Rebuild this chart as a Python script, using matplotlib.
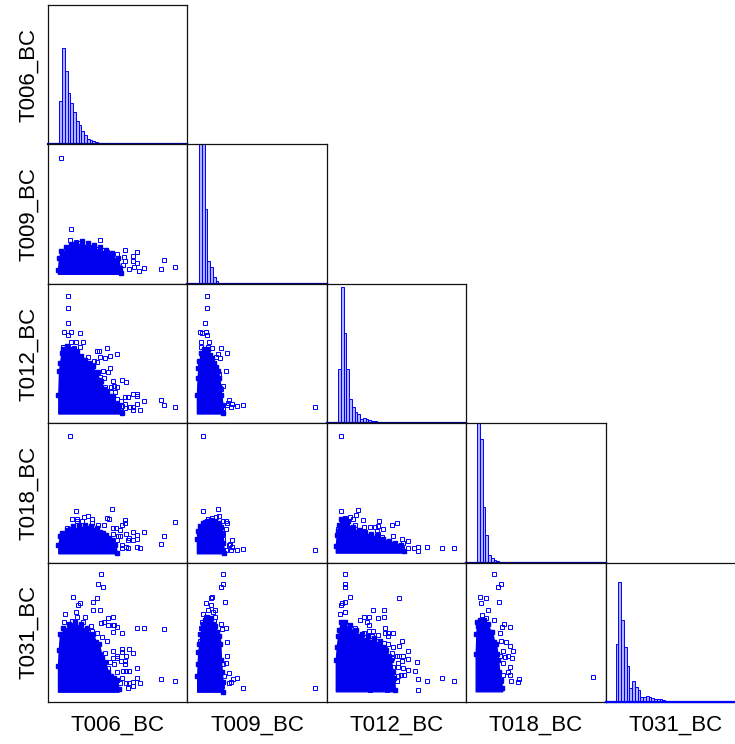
"""
Corner pair plot of the five black carbon channels.
Values are read off the picture, on a 0-139 scale per channel.
"""

import matplotlib
matplotlib.use('Agg')
import matplotlib.pyplot as plt
import numpy as np

plt.rcParams['font.family'] = ['Liberation Sans', 'DejaVu Sans']

names = ['T006_BC', 'T009_BC', 'T012_BC', 'T018_BC', 'T031_BC']

# histogram heights per channel
hist_start = [11.3, 11.8, 11.3, 10.8, 10.0]
hist_step = 2.75
h_t006 = [43.3, 96, 73.3, 51.7, 41.7, 32.3, 23.3, 19.3, 13.3, 9, 5.7, 4, 3, 2, 1.7, 1.3, 1, 0.7, 0.4, 0.3, 0.2]
h_t009 = [150, 150, 75, 23.3, 16.7, 6.7, 3, 1.3, 0.7, 0.3, 0.2]
h_t012 = [54.7, 136.7, 90.7, 54.7, 24.7, 16.7, 11.7, 9.7, 4, 5.7, 4.7, 3.3, 2.7, 2.3, 1.7, 1.3, 1.1, 0.9, 0.7, 0.6, 0.5, 0.4, 0.4, 0.3, 0.3]
h_t018 = [150, 124, 56, 28, 8, 4.7, 2.3, 1.7, 1, 0.5, 0.3]
h_t031 = [58, 119.7, 82.3, 54.7, 36.3, 13.7, 21.3, 15.3, 12, 4.7, 5.3, 5.7, 4.7, 3.7, 3.3, 3.3, 2.7, 2, 1.3, 1, 0.7, 0.5, 0.3]
hists = [h_t006, h_t009, h_t012, h_t018, h_t031]

# dense part of each scatter: outline x, top y, floor y
# isolated points: x, y
d10_x = [10, 11, 13, 15, 18, 20, 23, 25, 28, 31, 34, 37, 40, 43, 46, 49, 52, 55, 58, 61, 64, 67, 70, 72, 73]
d10_top = [14, 26, 33, 30, 37, 34, 40, 36, 41, 38, 43, 37, 41, 36, 39, 33, 37, 31, 34, 28, 31, 24, 26, 16, 11]
d10_floor = 10
p10_x = [13.3, 23, 21.7, 52, 28, 29.7, 17.7, 42.7, 46.3, 33.7, 77, 88.7, 63.7, 69.3, 84.7, 76, 115.7, 77, 84.7, 88.7, 127, 95.7, 113, 86, 91.3, 81, 75.3, 68.7, 48.7, 53.7, 58.7]
p10_y = [126.3, 55, 44.3, 44.3, 42, 41, 37.3, 37.3, 38.3, 39, 34.3, 32, 29.3, 30, 28.3, 26.7, 23.7, 23.3, 23.3, 20.7, 17.3, 16.3, 15.3, 17.3, 13.3, 14.7, 19, 22, 34.7, 34, 32.3]

d20_x = [10.3, 11, 12, 13.5, 15, 17, 19, 21, 23, 25, 27, 29, 31, 33, 35, 37, 39, 41, 43, 45, 47, 49, 51, 53, 56, 59, 62, 65, 68, 71, 74]
d20_top = [28, 52, 60, 70, 74, 70, 77, 73, 71, 74, 68, 72, 66, 67, 62, 63, 58, 60, 55, 57, 49, 51, 43, 42, 34, 32, 27, 27, 20, 18, 10]
d20_floor = 9.7
p20_x = [20.3, 20.3, 20.3, 16, 22.7, 20.3, 32, 23, 27.7, 34.7, 14.7, 20.3, 26, 32, 59, 48.7, 51, 68.7, 61.7, 52, 57, 40.3, 46, 48.7, 42, 61.7, 54.7, 60.3, 50.3, 45.3, 52, 56, 74.3, 77.7, 65.3, 52, 57, 62.7, 66, 68.7, 63, 67, 85.3, 88.7, 88.7, 77, 80.3, 68.7, 73, 95.7, 113, 88.7, 115.7, 127.3, 77, 73.7, 82, 85.3, 92, 85, 72, 77]
p20_y = [127, 115.7, 100.3, 91.7, 91.7, 88, 90.3, 81.3, 81.3, 81.3, 76.3, 76.3, 75.3, 76.3, 75.3, 72.7, 72.7, 69, 67.7, 66.3, 65.3, 66.3, 62.7, 61.3, 60.3, 55, 52.7, 51.3, 51.3, 57, 46, 45, 43.7, 41.3, 42.3, 40, 36.3, 36, 37.3, 36.3, 31.7, 31.7, 29.7, 29.7, 27.7, 26, 26, 24.7, 22, 22, 23.3, 19.7, 18.3, 16, 19.3, 17, 16, 16, 13.3, 13.3, 13.3, 15.3]

d21_x = [9.5, 10.2, 11, 12, 13.5, 15, 17, 19, 21, 23, 25, 27, 29, 30.5, 32, 33, 34, 35, 36]
d21_top = [28, 45, 55, 62, 70, 68, 74, 71, 74, 68, 65, 60, 56, 52, 45, 35, 28, 18, 10]
d21_floor = 9.7
p21_x = [19.5, 19.5, 17.5, 12.5, 14.5, 18.2, 19.5, 13.5, 21.5, 13.5, 20.2, 24.2, 33.5, 39.2, 30.8, 32.5, 28.2, 12.5, 38.5, 31.5, 35.8, 33.5, 41.5, 40.2, 44.8, 55.5, 49.2, 43.5, 39.2, 35.8, 127.2]
p21_y = [127, 115.7, 100.3, 91.7, 90.3, 91.7, 88, 81.7, 81.3, 76.3, 76.3, 75.3, 75.3, 70.3, 69.3, 65.3, 66, 60.3, 52.7, 49.3, 37, 34.7, 23.3, 20.3, 19.3, 18.3, 17, 16, 18.3, 15.3, 16]

d30_x = [10.3, 12, 14, 16, 19, 22, 25, 28, 31, 34, 37, 40, 43, 46, 49, 52, 55, 58, 61, 64, 67, 69]
d30_top = [18, 27, 30, 27, 33, 34, 37, 33, 38, 34, 38, 35, 37, 33, 35, 31, 30, 28, 25, 23, 18, 10]
d30_floor = 9.3
p30_x = [21.7, 27.7, 64, 24, 29, 36, 40.3, 44, 59, 60.7, 77.3, 127.3, 29.3, 33.7, 43.7, 77, 74.3, 56.3, 50.3, 18.7, 25.3, 64.7, 68.3, 72, 95.7, 85, 77.7, 72.3, 65.3, 69.7, 88.7, 115.7, 81, 88.7, 80.3, 84.7, 68.7, 113, 74.3, 77.7, 88.7, 80.3, 92, 74.3, 65.3, 62.7]
p30_y = [127, 51.7, 53.3, 44, 44, 45.3, 47, 44, 45, 44, 42.7, 40.3, 41.7, 41.7, 39.3, 39.3, 37.3, 37.3, 37.3, 35, 36.7, 34.3, 35, 32.7, 30.3, 30.3, 28.7, 26.7, 28.3, 26.7, 27.7, 26.7, 25, 23.7, 22.7, 22.7, 22.7, 19, 17.3, 16, 16, 15, 14.3, 14.3, 16, 12.7]

d31_x = [9.5, 10.5, 11.5, 12.5, 14, 16, 18, 20, 22, 24, 26, 28, 30, 32, 34, 35, 35.8, 36.3]
d31_top = [24, 32, 30, 37, 35, 40, 38, 42, 39, 43, 39, 42, 38, 40, 36, 30, 20, 10]
d31_floor = 9.3
p31_x = [15.2, 15.2, 30.2, 31.5, 17.5, 20.8, 24.2, 28.2, 35.8, 38.5, 39.5, 38.5, 35.8, 35.8, 44.8, 42.5, 41.2, 44.2, 38.5, 43.5, 49.2, 55.5, 35.8, 127.2]
p31_y = [127, 51.7, 53.3, 47, 40.3, 44, 45, 46, 42, 42, 39.3, 34, 28.3, 23.7, 22.7, 19, 17.3, 16, 13, 13, 13, 14, 12.3, 12.3]

d32_x = [9, 10, 10.7, 12, 13, 14, 15.5, 17, 19, 21, 23, 26, 29, 32, 35, 38, 41, 44, 47, 50, 53, 56, 59, 62, 65, 68, 71, 74, 77]
d32_top = [17, 28, 32, 38, 36, 44, 41, 44, 40, 42, 35, 36, 31, 33, 29, 31, 27, 29, 25, 27, 23, 24, 21, 22, 19, 20, 17, 18, 12]
d32_floor = 10
p32_x = [14, 14, 31, 29.3, 18, 23, 25.7, 36, 52, 69.7, 64.7, 50.7, 48, 43, 37, 28, 55.7, 11.3, 49.7, 33, 50.7, 66, 55.3, 75, 81, 75.3, 81, 87.3, 90.7, 91.3, 100, 115.3, 127, 76.3]
p32_y = [127, 51.7, 53, 47.3, 45, 45.7, 43.7, 42.3, 42, 39.3, 37.3, 37, 36, 36, 36, 37.3, 34, 34, 31.3, 32.7, 28.3, 27, 26, 24, 22, 15, 15, 15, 16, 12, 15.7, 14.3, 14.3, 19.3]

d40_x = [10, 10.8, 12, 13.5, 15.3, 18, 21, 24, 27, 30, 33, 36, 39, 42, 45, 48, 51, 54, 57, 60, 63, 66, 69, 70.5]
d40_top = [36, 52, 68, 66, 74, 72, 78, 76, 80, 75, 78, 72, 74, 67, 68, 60, 58, 44, 40, 30, 26, 24, 22, 13]
d40_floor = 10.3
p40_x = [53.3, 50, 54.7, 25, 48.7, 45, 32, 30, 45, 52, 27.7, 17, 37, 28.7, 64.7, 60.3, 16, 34.7, 24, 53, 56, 60.3, 64.7, 66, 42.7, 68.7, 88.7, 95.7, 115.7, 43.7, 64.7, 74.3, 48.7, 53.7, 58.7, 64.7, 74.3, 74.3, 81.3, 84.7, 52, 57, 68.7, 77.7, 64.7, 68.7, 72.7, 76.7, 62, 66, 76.7, 88.7, 75.3, 78, 81, 68.7, 60.3, 88.7, 73.7, 113, 127, 85.3, 78, 81.3, 92, 72, 84.7, 80.3]
p40_y = [127.7, 117.7, 115, 105, 104, 100, 99.3, 97.3, 92.3, 92.3, 90, 87.7, 85.3, 85.3, 85.3, 84, 80.3, 80.3, 81.3, 79, 80.3, 77.3, 77.3, 77.3, 76.3, 75.3, 74, 74, 72.7, 71.3, 70, 68.7, 68.7, 64.7, 61.3, 51, 53, 49.7, 53, 48.7, 48, 48.7, 46, 46, 43.7, 43.7, 40.7, 40.7, 39.7, 38, 38, 34, 31, 31, 31, 30.3, 33.7, 24.3, 23.7, 22.7, 21, 20.3, 19, 19, 19, 19, 16.3, 14]

d41_x = [9.8, 10.3, 10.8, 12, 13, 14.2, 16, 18, 20, 22, 24, 26, 28, 30, 32, 33, 33.5, 34.5, 35.2, 36]
d41_top = [26, 38, 50, 58, 68, 74, 78, 82, 85, 81, 84, 78, 76, 70, 66, 58, 42, 30, 20, 10]
d41_floor = 10.3
p41_x = [35.5, 35.5, 33.5, 24.2, 23.2, 37.5, 18.5, 23.5, 20.5, 27.5, 25.5, 15.5, 27.5, 18.5, 14.8, 26.5, 33.5, 38.5, 34.2, 13.2, 39.5, 12.2, 39.5, 38.2, 35.2, 41.2, 36.5, 49.2, 45.2, 43.2, 41.8, 34.2, 32.5, 55.5, 127.2]
p41_y = [127.7, 117.7, 115, 105, 104, 100, 99, 97.3, 92.3, 92.3, 90, 87.7, 85.3, 84.7, 79.7, 80.7, 77.7, 73.7, 73, 74, 60.3, 61.3, 46, 39, 38, 28.7, 26.3, 24.3, 22.7, 20.3, 19, 16.3, 16.3, 14, 14]

d42_x = [9, 10, 11.3, 12.5, 14, 16, 18, 20, 23, 26, 29, 32, 35, 38, 41, 44, 47, 50, 53, 56, 59, 62, 64, 66, 67.5, 68]
d42_top = [42, 55, 66, 72, 80, 76, 80, 74, 77, 70, 72, 66, 68, 62, 66, 60, 64, 58, 61, 55, 52, 46, 42, 30, 24, 12]
d42_floor = 10.7
p42_x = [18, 18, 18, 23, 18, 15.3, 13.7, 72.3, 46, 57, 18, 13, 37, 41.7, 51, 57, 33.3, 39.7, 42, 13.7, 28, 58.3, 46.3, 41.7, 58.3, 61.3, 66, 37, 51, 60.7, 45, 75, 51.3, 57, 61.3, 66, 72.3, 58.3, 81, 64.7, 60.7, 69.7, 72.3, 76, 81, 65.3, 75, 90, 70.7, 66.3, 76, 70.7, 81, 87.7, 74, 76.7, 70.7, 64.7, 91.3, 115.3, 100, 127, 69.7, 66.3, 61.3, 56.3, 91.3, 60, 43]
p42_y = [127.7, 117.7, 115, 105, 100, 99, 97.3, 104, 92.3, 92.3, 90, 87.7, 85.3, 85.3, 84, 85.3, 82.3, 80.3, 77.3, 80.3, 74, 74, 71.3, 71.3, 69, 69, 69, 69, 67.3, 66, 66, 61.3, 61.3, 59, 58, 54.7, 56.3, 53, 51, 49.3, 46, 46, 46, 46, 42.7, 43.7, 41.3, 40, 39, 34.7, 34, 34.7, 32.3, 31, 27.3, 27.3, 26.3, 29.7, 22.7, 24, 21, 21, 20.7, 20.7, 21.3, 15.7, 12.3, 12.3, 12]

d43_x = [9.5, 10.2, 10.8, 12, 14, 16, 18, 20, 22, 24, 26, 28, 30, 31, 32, 33, 34.5, 36]
d43_top = [48, 68, 80, 76, 82, 78, 82, 74, 78, 70, 70, 60, 58, 48, 42, 30, 22, 14]
d43_floor = 10.7
p43_x = [27.5, 34.5, 31.5, 13.5, 19.5, 15.2, 33.2, 16.2, 21.8, 20.2, 27.8, 37.8, 43.8, 36.2, 34.2, 39.5, 44.2, 46.5, 35.2, 36.8, 42.2, 45.5, 34.2, 38.5, 43.5, 36.8, 41.8, 44.2, 36.8, 52.8, 51.5, 44.5, 126.5, 35.2]
p43_y = [127.7, 117.7, 115.3, 105.3, 104, 99, 100.3, 87.3, 92.3, 84, 82, 78, 75.3, 75.3, 69, 60.3, 56.3, 51.3, 61.3, 51.3, 46, 44, 46, 44.7, 35.3, 38.7, 30.3, 27.3, 27, 22.7, 20.3, 21, 25.3, 21.3]

scatters = {
    (1, 0): (d10_x, d10_top, d10_floor, p10_x, p10_y),
    (2, 0): (d20_x, d20_top, d20_floor, p20_x, p20_y),
    (2, 1): (d21_x, d21_top, d21_floor, p21_x, p21_y),
    (3, 0): (d30_x, d30_top, d30_floor, p30_x, p30_y),
    (3, 1): (d31_x, d31_top, d31_floor, p31_x, p31_y),
    (3, 2): (d32_x, d32_top, d32_floor, p32_x, p32_y),
    (4, 0): (d40_x, d40_top, d40_floor, p40_x, p40_y),
    (4, 1): (d41_x, d41_top, d41_floor, p41_x, p41_y),
    (4, 2): (d42_x, d42_top, d42_floor, p42_x, p42_y),
    (4, 3): (d43_x, d43_top, d43_floor, p43_x, p43_y),
}

W, H = 735, 744
left, top, size = 48.0, 5.0, 139.4
blue = '#0000ff'

fig = plt.figure(figsize=(W / 100, H / 100), dpi=100)

for i in range(5):
    for j in range(i + 1):
        # the last column runs past the right edge of the figure
        ax = fig.add_axes([(left + j * size) / W,
                           1 - (top + (i + 1) * size) / H,
                           size / W, size / H])
        ax.set_xlim(0, 139.4)
        ax.set_ylim(0, 139.4)
        ax.set_xticks([])
        ax.set_yticks([])
        for s in ax.spines.values():
            s.set_linewidth(0.9)
            s.set_color('#111111')

        if i == j:
            heights = hists[i]
            edges = hist_start[i] + hist_step * np.arange(len(heights))
            ax.bar(edges, heights, width=hist_step, align='edge',
                   facecolor=(0, 0, 1, 0.3), edgecolor=blue, linewidth=0.7)
            base = blue if i == 4 else '#00008b'
            ax.axhline(0, color=base, linewidth=1.6, clip_on=False, zorder=5)
        else:
            dx, dtop, floor, px, py = scatters[(i, j)]
            ax.fill_between(dx, floor, dtop, color='#0000ee', linewidth=1.0)
            ax.plot(dx, dtop, 's', color='#0000ee', ms=3.0)
            ax.plot(px, py, 's', mfc='none', mec=blue, ms=2.8, mew=0.7)

        if j == 0:
            ax.set_ylabel(names[i], fontsize=16, labelpad=6)
        if i == 4:
            ax.set_xlabel(names[j], fontsize=16, labelpad=9)

plt.savefig('out.png', dpi=100)
plt.close('all')
